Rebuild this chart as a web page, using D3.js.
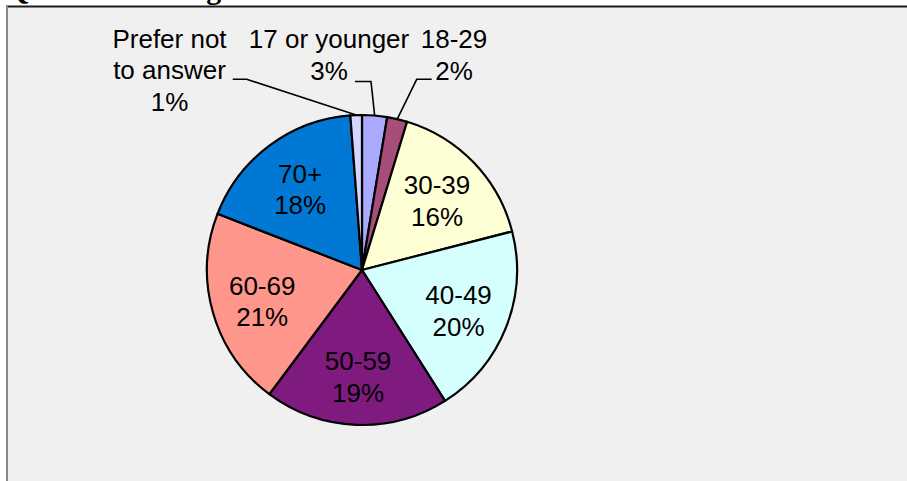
<!DOCTYPE html>
<html>
<head>
<meta charset="utf-8">
<script src="https://cdn.jsdelivr.net/npm/d3@7"></script>
<style>
  html, body { margin: 0; padding: 0; background: #fff; }
  svg { display: block; }
</style>
</head>
<body>
<div id="chart"></div>
<script>
// Age breakdown of respondents (percent)
const categories = ["17 or younger", "18-29", "30-39", "40-49", "50-59", "60-69", "70+", "Prefer not to answer"];
const shares = [2.6, 2.1, 16.3, 20.0, 19.2, 20.7, 17.9, 1.2];
const labelLines = [["17 or younger"], ["18-29"], ["30-39"], ["40-49"], ["50-59"], ["60-69"], ["70+"], ["Prefer not", "to answer"]];
const sliceColors = ["#aaaaff", "#a64d79", "#ffffd5", "#d5ffff", "#7f1a7f", "#ff968c", "#0078d4", "#d5d5ff"];

const width = 907, height = 481;
const cx = 362, cy = 270, radius = 155;
const fontSize = 25, lineHeight = 31.7, stretch = 1.04;

// hand placed callouts for the thin slices (offsets from pie centre)
const callouts = {
  "17 or younger": { tx: -33, ty: -222, elbow: [9, -188.5], end: [-7, -188.5] },
  "18-29": { tx: 92, ty: -222, elbow: [54.7, -190.7], end: [69.7, -190.7] },
  "Prefer not to answer": { tx: -192.5, ty: -222.3, elbow: [-115.3, -190.7], end: [-129.3, -190.7] }
};

const svg = d3.select("#chart")
  .append("svg")
  .attr("width", width)
  .attr("height", height);

// title, mostly cut off above the frame
svg.append("text")
  .attr("x", 6)
  .attr("y", -1)
  .attr("font-family", "'Liberation Serif', 'Times New Roman', serif")
  .attr("font-weight", "bold")
  .attr("font-size", 30)
  .attr("fill", "#000")
  .text("Q12. Current Age");

// chart area
svg.append("rect")
  .attr("x", 7).attr("y", 7)
  .attr("width", width - 7).attr("height", height - 7)
  .attr("fill", "#f0f0f0");
svg.append("line")
  .attr("x1", 6).attr("x2", width).attr("y1", 6.5).attr("y2", 6.5)
  .attr("stroke", "#1a1a1a").attr("stroke-width", 2);
svg.append("line")
  .attr("x1", 7).attr("x2", 7).attr("y1", 6).attr("y2", height)
  .attr("stroke", "#888").attr("stroke-width", 2);

const pie = d3.pie().sort(null).value(d => d)(shares);
const arc = d3.arc().innerRadius(0).outerRadius(radius);
const labelArc = d3.arc().innerRadius(radius * 0.67).outerRadius(radius * 0.67);
const edgeArc = d3.arc().innerRadius(radius).outerRadius(radius);
const fmt = v => Math.round(v) + "%";

const g = svg.append("g").attr("transform", `translate(${cx},${cy})`);

g.selectAll(".slice")
  .data(pie)
  .enter()
  .append("path")
  .attr("class", "slice")
  .attr("d", arc)
  .attr("fill", (d, i) => sliceColors[i])
  .attr("stroke", "#000")
  .attr("stroke-width", 2.2)
  .attr("stroke-linejoin", "round");

function addLabel(x, y, lines) {
  const t = g.append("text")
    .attr("transform", `translate(${x},${y}) scale(${stretch},1)`)
    .attr("text-anchor", "middle")
    .attr("font-family", "'Liberation Sans', Arial, sans-serif")
    .attr("font-size", fontSize)
    .attr("fill", "#000");
  lines.forEach((s, k) => {
    t.append("tspan").attr("x", 0).attr("y", k * lineHeight).text(s);
  });
}

pie.forEach((d, i) => {
  const name = categories[i];
  const lines = labelLines[i].concat([fmt(shares[i])]);
  const co = callouts[name];
  if (co) {
    const p0 = edgeArc.centroid(d);
    g.append("polyline")
      .attr("points", [p0, co.elbow, co.end].map(p => p.join(",")).join(" "))
      .attr("fill", "none")
      .attr("stroke", "#000")
      .attr("stroke-width", 1.6);
    addLabel(co.tx, co.ty, lines);
  } else {
    const [lx, ly] = labelArc.centroid(d);
    const capH = fontSize * 0.716;
    addLabel(lx, ly + 3 - (lines.length - 1) * lineHeight / 2 + capH / 2, lines);
  }
});
</script>
</body>
</html>
